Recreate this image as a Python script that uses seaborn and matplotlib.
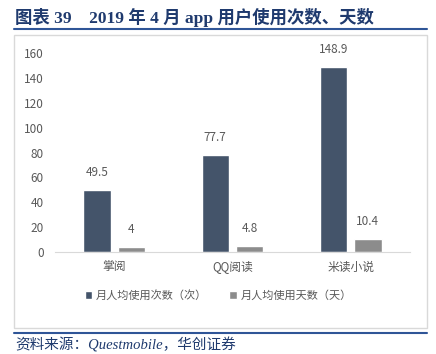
import pandas as pd
import seaborn as sns
import matplotlib.pyplot as plt
from matplotlib.patches import Rectangle
from matplotlib.lines import Line2D

sns.set_style('white')
plt.rcParams['font.family'] = ['Noto Sans CJK SC', 'DejaVu Sans']

apps = ['掌阅', 'QQ阅读', '米读小说']
series = ['月人均使用次数（次）', '月人均使用天数（天）']
times = [49.5, 77.7, 148.9]
days = [4, 4.8, 10.4]
labels = ['49.5', '77.7', '148.9', '4', '4.8', '10.4']

df = pd.DataFrame({
    'app': apps * 2,
    'series': [series[0]] * 3 + [series[1]] * 3,
    'value': times + days,
})

fig = plt.figure(figsize=(4.36, 3.54), dpi=100)
ax = fig.add_axes([0.126, 0.288, 0.814, 0.562])

sns.barplot(data=df, x='app', y='value', hue='series', ax=ax,
            palette=['#44546A', '#8C8C8C'], width=0.58, gap=0.2,
            saturation=1, legend=True)

for cont, lab in zip(ax.containers, [labels[:3], labels[3:]]):
    ax.bar_label(cont, labels=lab, padding=8, fontsize=8.5, color='#595959')

ax.set_ylim(0, 160)
ax.set_yticks(range(0, 161, 20))
ax.set_xlim(-0.5, 2.5)
ax.set_xlabel('')
ax.set_ylabel('')
ax.tick_params(axis='both', length=0, labelsize=8.5, colors='#595959')
ax.tick_params(axis='y', pad=8)
ax.tick_params(axis='x', pad=6)
for s in ['top', 'right', 'left']:
    ax.spines[s].set_visible(False)
ax.spines['bottom'].set_color('#D9D9D9')

leg = ax.legend(loc='upper center', bbox_to_anchor=(0.46, -0.14), ncol=2,
                frameon=False, fontsize=8, handlelength=0.7, handleheight=0.7,
                handletextpad=0.3, columnspacing=2.0)
for t in leg.get_texts():
    t.set_color('#595959')

# chart frame
fig.patches.append(Rectangle((0.032, 0.073), 0.947, 0.828, transform=fig.transFigure,
                             fill=False, edgecolor='#D9D9D9', linewidth=1.0))

# title, rules and source
fig.text(0.035, 0.952, '图表 39    2019 年 4 月 app 用户使用次数、天数',
         family=['Liberation Serif', 'Noto Sans CJK SC'], fontweight='bold',
         fontsize=12.5, color='#1F3A6E', va='center')
fig.lines.append(Line2D([0.032, 0.979], [0.918, 0.918], transform=fig.transFigure,
                        color='#2F5597', linewidth=1.5))
fig.lines.append(Line2D([0.032, 0.979], [0.059, 0.059], transform=fig.transFigure,
                        color='#2F5597', linewidth=1.5))
fig.text(0.035, 0.025, '资料来源：Questmobile，华创证券',
         family=['Liberation Serif', 'Noto Sans CJK SC'], style='italic',
         fontsize=10.5, color='#1F3A6E', va='center')

fig.savefig('out.png', dpi=100)
